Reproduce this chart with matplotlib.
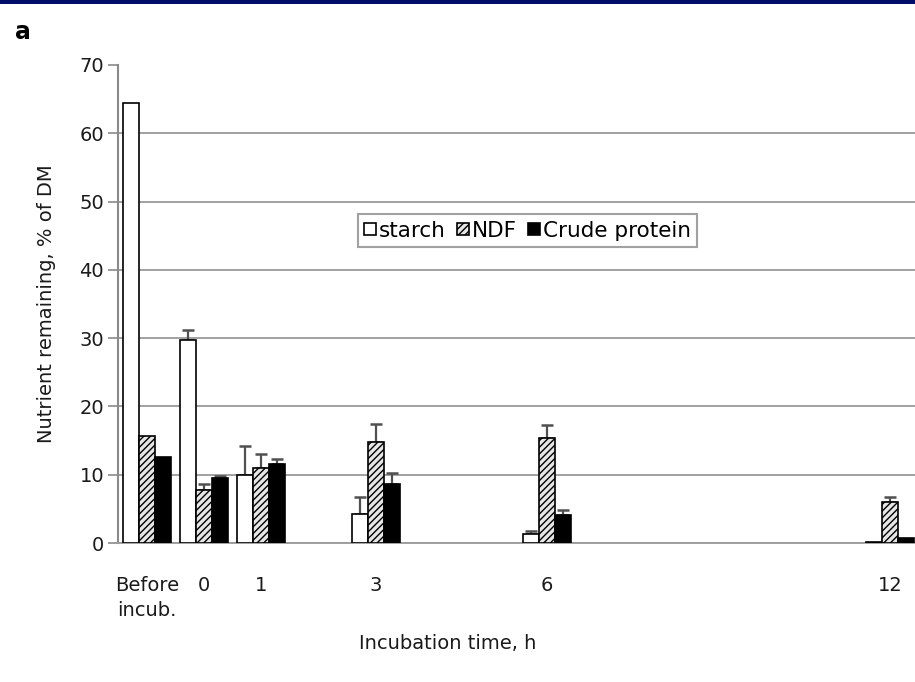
import numpy as np
import matplotlib
matplotlib.use("Agg")
import matplotlib.pyplot as plt
from matplotlib.patches import Rectangle

plt.rcParams["font.family"] = ["DejaVu Sans"]
plt.rcParams["hatch.linewidth"] = 1.0

# Incubation times (h); "Before incub." sits one step left of 0
times = [-1, 0, 1, 3, 6, 12]
time_labels = ["Before\nincub.", "0", "1", "3", "6", "12"]

# Nutrient remaining, % of DM
starch = [64.5, 29.8, 10.0, 4.3, 1.3, 0.2]
ndf = [15.7, 7.8, 11.0, 14.8, 15.4, 6.0]
crude_protein = [12.6, 9.5, 11.5, 8.7, 4.1, 0.8]

# Upper error bars (nan = none shown)
starch_err = [np.nan, 1.4, 4.2, 2.4, 0.5, np.nan]
ndf_err = [np.nan, 0.9, 2.0, 2.6, 1.9, 0.7]
crude_protein_err = [np.nan, 0.3, 0.8, 1.5, 0.7, np.nan]

fig = plt.figure(figsize=(9.15, 6.82), dpi=100)
ax = fig.add_axes([0.129, 0.2038, 0.871, 0.7009])

# Dark band along the top edge of the picture
fig.patches.append(Rectangle((0, 0.994), 1, 0.006, transform=fig.transFigure,
                             facecolor="#000c6a", edgecolor="none"))

x = np.array(times, dtype=float)
w = 0.28
series = [
    (starch, starch_err, -w, "white", None, "starch"),
    (ndf, ndf_err, 0, "#e6e6e6", "/////", "NDF"),
    (crude_protein, crude_protein_err, w, "black", None, "Crude protein"),
]
for vals, errs, off, fc, hatch, lab in series:
    ax.bar(x + off, vals, w, facecolor=fc, edgecolor="black",
           linewidth=1.2, hatch=hatch, label=lab, zorder=3)
    errs = np.array(errs, dtype=float)
    ok = ~np.isnan(errs)
    ax.errorbar((x + off)[ok], np.array(vals)[ok],
                yerr=[np.zeros(ok.sum()), errs[ok]], fmt="none",
                ecolor="#505050", elinewidth=1.6, capsize=4.5, capthick=1.8,
                zorder=2)

ax.set_xlim(-1.507, 12.44)
ax.set_ylim(0, 70)
ax.set_yticks(range(0, 71, 10))
ax.set_xticks(times)
ax.set_xticklabels(time_labels, multialignment="center", linespacing=1.35)

ax.yaxis.grid(True, color="#9a9a9a", linewidth=1.3, zorder=0)
ax.get_ygridlines()[-1].set_visible(False)
ax.set_axisbelow(True)
for s in ["top", "right"]:
    ax.spines[s].set_visible(False)
ax.spines["left"].set_color("#8a8a8a")
ax.spines["left"].set_linewidth(1.5)
ax.spines["bottom"].set_color("#9a9a9a")
ax.spines["bottom"].set_linewidth(1.3)

fs = 14
ax.tick_params(axis="y", direction="out", length=7, width=1.2, color="#8a8a8a",
               labelsize=fs, pad=3, labelcolor="#1a1a1a")
ax.tick_params(axis="x", length=0, pad=24, labelsize=fs, labelcolor="#1a1a1a")

ax.set_ylabel("Nutrient remaining, % of DM", fontsize=fs, color="#1a1a1a")
ax.yaxis.set_label_coords(-0.078, 0.5)
ax.set_xlabel("Incubation time, h", fontsize=fs, color="#1a1a1a")
ax.xaxis.set_label_coords(0.414, -0.19)

fig.text(0.016, 0.97, "a", fontsize=17, fontweight="bold", va="top", ha="left")

leg = ax.legend(loc="upper left", bbox_to_anchor=(0.391, 0.686),
                bbox_transform=fig.transFigure, ncol=3, fontsize=15.5,
                frameon=True, fancybox=False, borderpad=0.3,
                handlelength=0.55, handleheight=0.55, handletextpad=0.15,
                columnspacing=0.5, borderaxespad=0)
leg.get_frame().set_edgecolor("#8a8a8a")
leg.get_frame().set_linewidth(1.5)

fig.savefig("out.png", dpi=100)
